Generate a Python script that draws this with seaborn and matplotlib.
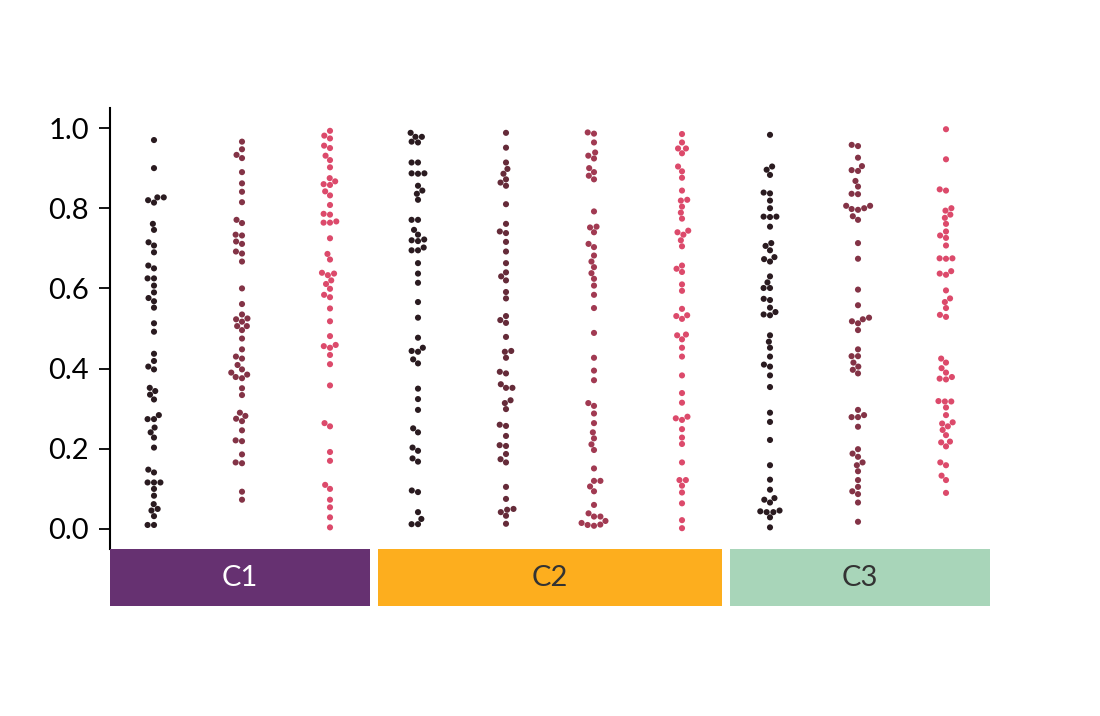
import matplotlib
matplotlib.use("Agg")
import matplotlib.pyplot as plt
import numpy as np
import pandas as pd
import seaborn as sns
from matplotlib.patches import Rectangle

# ---- data ----
groups = ["C1", "C2", "C3"]
group_sizes = [3, 4, 3]
group_colors = ["#663171", "#fdae1e", "#a8d5b9"]
group_text_colors = ["white", "#333333", "#333333"]

c1_a = [0.970, 0.900, 0.827, 0.827, 0.820, 0.814, 0.761, 0.746, 0.715, 0.707, 0.690, 0.657, 0.650,
        0.625, 0.625, 0.607, 0.590, 0.576, 0.568, 0.552, 0.513, 0.492, 0.437, 0.419, 0.405, 0.398,
        0.352, 0.344, 0.335, 0.323, 0.284, 0.274, 0.274, 0.253, 0.241, 0.228, 0.203, 0.148, 0.141,
        0.116, 0.116, 0.116, 0.100, 0.083, 0.062, 0.050, 0.046, 0.032, 0.010, 0.010]
c1_b = [0.966, 0.947, 0.933, 0.925, 0.890, 0.862, 0.841, 0.815, 0.771, 0.763, 0.734, 0.732, 0.717,
        0.711, 0.692, 0.687, 0.667, 0.600, 0.561, 0.535, 0.525, 0.523, 0.517, 0.506, 0.506, 0.496,
        0.475, 0.448, 0.430, 0.425, 0.409, 0.398, 0.390, 0.385, 0.379, 0.376, 0.351, 0.334, 0.290,
        0.282, 0.275, 0.269, 0.246, 0.221, 0.219, 0.186, 0.166, 0.164, 0.093, 0.073]
c1_c = [0.993, 0.981, 0.974, 0.956, 0.950, 0.931, 0.920, 0.902, 0.875, 0.867, 0.860, 0.858, 0.842,
        0.832, 0.808, 0.786, 0.784, 0.767, 0.764, 0.764, 0.725, 0.686, 0.672, 0.639, 0.637, 0.633,
        0.620, 0.611, 0.599, 0.584, 0.578, 0.550, 0.518, 0.481, 0.459, 0.456, 0.452, 0.434, 0.411,
        0.358, 0.264, 0.256, 0.192, 0.170, 0.110, 0.100, 0.073, 0.054, 0.029, 0.004]
c2_a = [0.988, 0.978, 0.978, 0.966, 0.964, 0.914, 0.914, 0.887, 0.887, 0.886, 0.856, 0.844, 0.836,
        0.821, 0.771, 0.771, 0.746, 0.734, 0.722, 0.720, 0.718, 0.702, 0.695, 0.695, 0.663, 0.637,
        0.614, 0.566, 0.527, 0.477, 0.452, 0.444, 0.442, 0.423, 0.413, 0.350, 0.324, 0.297, 0.251,
        0.241, 0.203, 0.195, 0.176, 0.168, 0.096, 0.092, 0.042, 0.025, 0.012, 0.012]
c2_b = [0.988, 0.951, 0.914, 0.898, 0.886, 0.872, 0.864, 0.856, 0.810, 0.761, 0.742, 0.738, 0.716,
        0.692, 0.663, 0.640, 0.630, 0.620, 0.591, 0.575, 0.531, 0.521, 0.514, 0.479, 0.444, 0.442,
        0.427, 0.392, 0.388, 0.361, 0.352, 0.352, 0.321, 0.314, 0.299, 0.260, 0.257, 0.232, 0.209,
        0.207, 0.187, 0.174, 0.166, 0.105, 0.075, 0.050, 0.048, 0.042, 0.033, 0.013]
c2_c = [0.989, 0.986, 0.964, 0.939, 0.931, 0.924, 0.900, 0.890, 0.881, 0.872, 0.792, 0.754, 0.752,
        0.740, 0.711, 0.703, 0.682, 0.667, 0.653, 0.638, 0.624, 0.607, 0.584, 0.551, 0.489, 0.427,
        0.395, 0.371, 0.314, 0.307, 0.288, 0.264, 0.241, 0.226, 0.211, 0.197, 0.151, 0.120, 0.120,
        0.106, 0.094, 0.060, 0.039, 0.031, 0.031, 0.020, 0.015, 0.011, 0.010, 0.008]
c2_d = [0.985, 0.964, 0.949, 0.949, 0.937, 0.904, 0.892, 0.876, 0.844, 0.821, 0.819, 0.804, 0.789,
        0.774, 0.744, 0.740, 0.734, 0.720, 0.705, 0.657, 0.649, 0.641, 0.610, 0.594, 0.549, 0.533,
        0.531, 0.524, 0.485, 0.483, 0.473, 0.452, 0.430, 0.383, 0.339, 0.315, 0.280, 0.276, 0.272,
        0.249, 0.228, 0.212, 0.166, 0.122, 0.122, 0.108, 0.091, 0.064, 0.022, 0.002]
c3_a = [0.983, 0.904, 0.896, 0.883, 0.839, 0.837, 0.819, 0.800, 0.779, 0.779, 0.778, 0.754, 0.713,
        0.706, 0.695, 0.678, 0.673, 0.667, 0.630, 0.615, 0.601, 0.601, 0.574, 0.571, 0.552, 0.541,
        0.535, 0.533, 0.483, 0.467, 0.452, 0.430, 0.410, 0.405, 0.383, 0.354, 0.290, 0.267, 0.222,
        0.159, 0.123, 0.098, 0.077, 0.073, 0.066, 0.046, 0.044, 0.042, 0.042, 0.029, 0.004]
c3_b = [0.958, 0.955, 0.926, 0.905, 0.895, 0.893, 0.868, 0.854, 0.836, 0.835, 0.806, 0.806, 0.800,
        0.798, 0.796, 0.780, 0.771, 0.713, 0.674, 0.597, 0.558, 0.527, 0.523, 0.518, 0.513, 0.496,
        0.448, 0.431, 0.431, 0.415, 0.405, 0.397, 0.388, 0.297, 0.284, 0.279, 0.279, 0.255, 0.199,
        0.188, 0.180, 0.166, 0.159, 0.144, 0.122, 0.105, 0.094, 0.087, 0.066, 0.018]
c3_c = [0.997, 0.922, 0.847, 0.844, 0.800, 0.794, 0.784, 0.776, 0.761, 0.742, 0.732, 0.726, 0.707,
        0.675, 0.675, 0.674, 0.643, 0.637, 0.634, 0.595, 0.575, 0.566, 0.551, 0.534, 0.529, 0.425,
        0.415, 0.401, 0.390, 0.379, 0.375, 0.373, 0.319, 0.318, 0.318, 0.303, 0.284, 0.266, 0.263,
        0.256, 0.247, 0.234, 0.218, 0.216, 0.206, 0.166, 0.159, 0.133, 0.122, 0.090]

series = [c1_a, c1_b, c1_c, c2_a, c2_b, c2_c, c2_d, c3_a, c3_b, c3_c]
yticks = [0.0, 0.2, 0.4, 0.6, 0.8, 1.0]

# ---- palette: blend dark -> pink within each group ----
dark = "#2a1b20"
pink = "#dc4a6b"
palette = []
col_labels = []
for g, n in zip(groups, group_sizes):
    palette += sns.blend_palette([dark, pink], n_colors=n)
    col_labels += [f"{g}_{i+1}" for i in range(n)]

rows = []
for lab, vals in zip(col_labels, series):
    for v in vals:
        rows.append((lab, v))
df = pd.DataFrame(rows, columns=["col", "value"])

sns.set_style("white")
plt.rcParams["font.family"] = ["Lato", "DejaVu Sans"]

fig = plt.figure(figsize=(11, 7.16), dpi=100)
ax = fig.add_axes([0.1, 0.2332, 0.8, 0.616])

sns.swarmplot(data=df, x="col", y="value", hue="col", order=col_labels,
              hue_order=col_labels, palette=palette, size=4.4, legend=False, ax=ax)

ax.set_xlim(-0.5, len(col_labels) - 0.5)
ax.set_ylim(-0.05, 1.05)
ax.set_yticks(yticks)
ax.set_yticklabels([f"{t:.1f}" for t in yticks])
ax.set_xticks([])
ax.set_xlabel("")
ax.set_ylabel("")
for s in ["top", "right", "bottom"]:
    ax.spines[s].set_visible(False)
ax.spines["left"].set_color("black")
ax.spines["left"].set_linewidth(1.5)
ax.tick_params(axis="y", left=True, length=8, width=1.3, pad=7,
               labelsize=21, colors="black")

# ---- group boxes below the axis ----
bax = fig.add_axes([0.1, 0.1536, 0.8, 0.0796])
bax.set_xlim(-0.5, len(col_labels) - 0.5)
bax.set_ylim(0, 1)
bax.axis("off")
start = -0.5
pad = 0.05
for i, (g, n, c, tc) in enumerate(zip(groups, group_sizes, group_colors, group_text_colors)):
    left = start + (pad if i > 0 else 0)
    right = start + n - (pad if i < len(groups) - 1 else 0)
    bax.add_patch(Rectangle((left, 0), right - left, 1, facecolor=c, edgecolor="none"))
    bax.text((left + right) / 2, 0.5, g, ha="center", va="center",
             fontsize=21, color=tc)
    start += n

fig.savefig("out.png", dpi=100)
